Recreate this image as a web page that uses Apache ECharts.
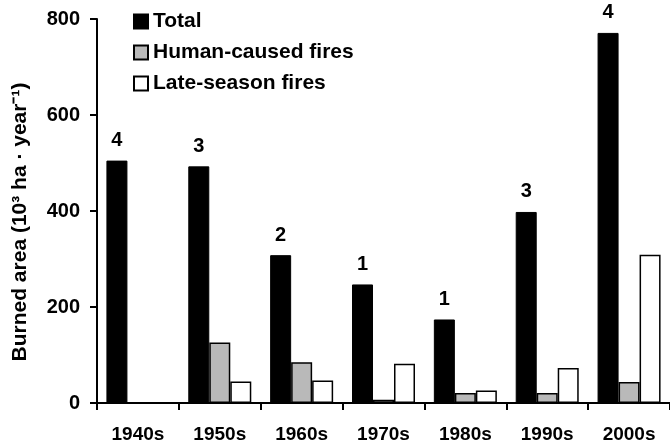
<!DOCTYPE html>
<html>
<head>
<meta charset="utf-8">
<script src="https://cdn.jsdelivr.net/npm/echarts@6/dist/echarts.min.js"></script>
<style>
html,body{margin:0;padding:0;background:#fff;}
#chart{width:670px;height:445px;}
</style>
</head>
<body>
<div id="chart"></div>
<script>
var categories = ['1940s', '1950s', '1960s', '1970s', '1980s', '1990s', '2000s'];
var totalValues = [505, 493, 308, 247, 174, 398, 771];
var humanValues = [null, 126, 85, 7, 21, 21, 44];
var lateValues = [null, 45, 47, 82, 26, 73, 309];
var totalLabels = ['4', '3', '2', '1', '1', '3', '4'];
var yTicks = [0, 200, 400, 600, 800];

var FONT = '"Liberation Sans", Arial, sans-serif';
var chart = echarts.init(document.getElementById('chart'), null, {renderer: 'canvas'});
chart.setOption({
  backgroundColor: '#ffffff',
  animation: false,
  textStyle: {fontFamily: FONT, fontWeight: 'bold', color: '#000'},
  legend: {
    orient: 'vertical',
    left: 128,
    top: 6,
    itemWidth: 14,
    itemHeight: 14,
    itemGap: 10,
    icon: 'rect',
    textStyle: {fontFamily: FONT, fontWeight: 'bold', fontSize: 21, color: '#000', padding: [0, 0, 0, 0]},
    data: ['Total', 'Human-caused fires', 'Late-season fires']
  },
  grid: {left: 97, right: 0, top: 19, bottom: 42, containLabel: false},
  xAxis: {
    type: 'category',
    data: categories,
    axisLine: {lineStyle: {color: '#000', width: 2}},
    axisTick: {show: true, length: 7, lineStyle: {color: '#000', width: 2}},
    axisLabel: {margin: 22, fontFamily: FONT, fontWeight: 'bold', fontSize: 19, color: '#000'}
  },
  yAxis: {
    type: 'value',
    min: yTicks[0],
    max: yTicks[yTicks.length - 1],
    interval: 200,
    name: 'Burned area (10\u00B3 ha \u00B7 year\u207B\u00B9)',
    nameLocation: 'middle',
    nameGap: 66,
    nameTextStyle: {fontFamily: FONT, fontWeight: 'bold', fontSize: 21, color: '#000', padding: [0, 22, 0, 0]},
    splitLine: {show: false},
    axisLine: {show: true, lineStyle: {color: '#000', width: 2}},
    axisTick: {show: true, length: 7, lineStyle: {color: '#000', width: 2}},
    axisLabel: {margin: 17, fontFamily: FONT, fontWeight: 'bold', fontSize: 20, color: '#000'}
  },
  series: [
    {
      name: 'Total',
      type: 'bar',
      data: totalValues,
      barWidth: 21,
      barGap: '0%',
      itemStyle: {color: '#000', borderColor: '#000', borderWidth: 1},
      label: {
        show: true,
        position: 'top',
        distance: 10,
        fontFamily: FONT, fontWeight: 'bold', fontSize: 20, color: '#000',
        formatter: function (p) { return totalLabels[p.dataIndex]; }
      }
    },
    {
      name: 'Human-caused fires',
      type: 'bar',
      data: humanValues,
      barWidth: 21,
      barGap: '0%',
      itemStyle: {color: '#b9b9b9', borderColor: '#000', borderWidth: 1.5}
    },
    {
      name: 'Late-season fires',
      type: 'bar',
      data: lateValues,
      barWidth: 21,
      barGap: '0%',
      itemStyle: {color: '#fff', borderColor: '#000', borderWidth: 1.5}
    }
  ]
});
</script>
</body>
</html>
